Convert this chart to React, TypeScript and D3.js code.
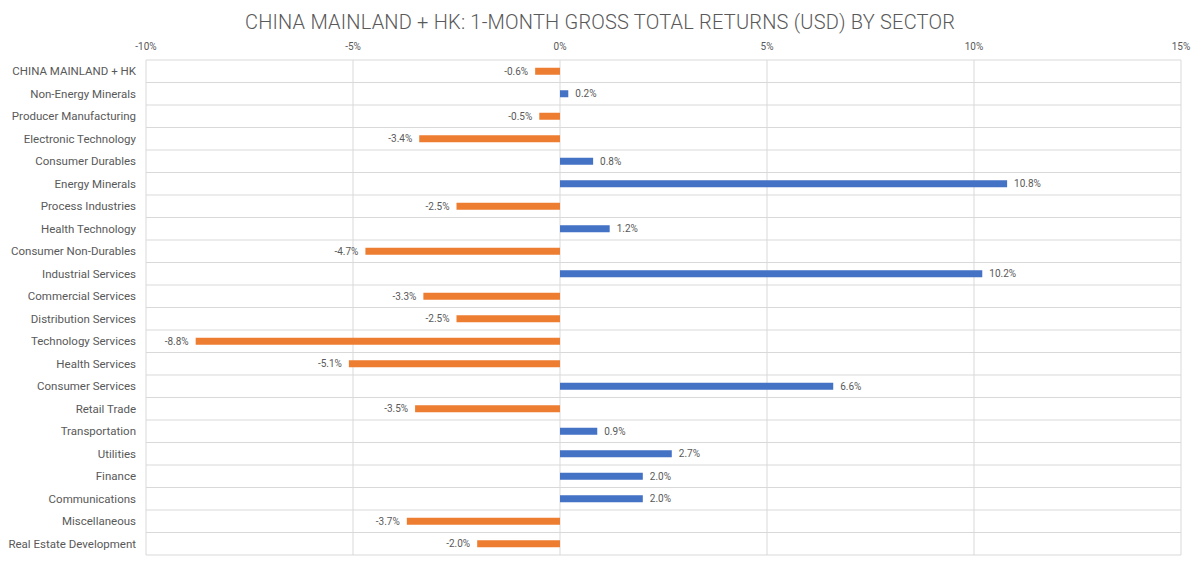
import React, { useEffect, useRef } from "react";
import * as d3 from "d3";

const categories = [
  "CHINA MAINLAND + HK",
  "Non-Energy Minerals",
  "Producer Manufacturing",
  "Electronic Technology",
  "Consumer Durables",
  "Energy Minerals",
  "Process Industries",
  "Health Technology",
  "Consumer Non-Durables",
  "Industrial Services",
  "Commercial Services",
  "Distribution Services",
  "Technology Services",
  "Health Services",
  "Consumer Services",
  "Retail Trade",
  "Transportation",
  "Utilities",
  "Finance",
  "Communications",
  "Miscellaneous",
  "Real Estate Development",
];

const values = [
  -0.6, 0.2, -0.5, -3.4, 0.8, 10.8, -2.5, 1.2, -4.7, 10.2, -3.3, -2.5, -8.8, -5.1, 6.6, -3.5, 0.9, 2.7, 2.0, 2.0,
  -3.7, -2.0,
];

const xTicks = [-10, -5, 0, 5, 10, 15];

const title = "CHINA MAINLAND + HK: 1-MONTH GROSS TOTAL RETURNS (USD) BY SECTOR";

export default function App() {
  const ref = useRef<SVGSVGElement>(null);

  useEffect(() => {
    const svg = d3.select(ref.current);
    svg.selectAll("*").remove();
    const W = 1200, H = 566;
    const left = 146, right = 1181, top = 60, bottom = 555;
    const font = "Roboto, 'Open Sans', sans-serif";
    const textColor = "#595959";
    const grid = "#d9d9d9";

    const x = d3.scaleLinear().domain([-10, 15]).range([left, right]);
    const y = d3.scaleBand().domain(categories).range([top, bottom]).paddingInner(0).paddingOuter(0);

    svg.append("rect").attr("width", W).attr("height", H).attr("fill", "#fff");

    svg.append("text")
      .attr("x", 600).attr("y", 29)
      .attr("text-anchor", "middle")
      .attr("font-family", font)
      .attr("font-size", 20)
      .attr("font-weight", 300)
      .attr("fill", textColor)
      .attr("letter-spacing", 0.2)
      .text(title);

    // vertical gridlines
    svg.append("g").selectAll("line").data(xTicks).join("line")
      .attr("x1", d => x(d)).attr("x2", d => x(d))
      .attr("y1", top).attr("y2", bottom)
      .attr("stroke", grid).attr("stroke-width", 1);

    // horizontal gridlines
    const hs = [top, ...categories.map(c => (y(c) as number) + y.bandwidth())];
    svg.append("g").selectAll("line").data(hs).join("line")
      .attr("x1", left).attr("x2", right)
      .attr("y1", d => d).attr("y2", d => d)
      .attr("stroke", grid).attr("stroke-width", 1);

    // tick labels
    svg.append("g").selectAll("text").data(xTicks).join("text")
      .attr("x", d => x(d)).attr("y", 50)
      .attr("text-anchor", "middle")
      .attr("font-family", font).attr("font-size", 10)
      .attr("fill", textColor)
      .text(d => `${d}%`);

    // category labels
    svg.append("g").selectAll("text").data(categories).join("text")
      .attr("x", 136)
      .attr("y", c => (y(c) as number) + y.bandwidth() / 2)
      .attr("dy", "0.35em")
      .attr("text-anchor", "end")
      .attr("font-family", font).attr("font-size", 11.5)
      .attr("fill", textColor)
      .text(c => c);

    const bh = 7;
    const data = categories.map((c, i) => ({ c, v: values[i] }));
    svg.append("g").selectAll("rect").data(data).join("rect")
      .attr("x", d => Math.min(x(0), x(d.v)))
      .attr("width", d => Math.abs(x(d.v) - x(0)))
      .attr("y", d => (y(d.c) as number) + y.bandwidth() / 2 - bh / 2)
      .attr("height", bh)
      .attr("fill", d => (d.v >= 0 ? "#4472C4" : "#ED7D31"));

    svg.append("g").selectAll("text").data(data).join("text")
      .attr("x", d => (d.v >= 0 ? x(d.v) + 7 : x(d.v) - 7))
      .attr("y", d => (y(d.c) as number) + y.bandwidth() / 2)
      .attr("dy", "0.35em")
      .attr("text-anchor", d => (d.v >= 0 ? "start" : "end"))
      .attr("font-family", font).attr("font-size", 10)
      .attr("fill", textColor)
      .text(d => `${d.v.toFixed(1)}%`);
  }, []);

  return (
    <div style={{ position: "absolute", left: 0, top: 0 }}>
      <svg ref={ref} width={1200} height={566} />
    </div>
  );
}
